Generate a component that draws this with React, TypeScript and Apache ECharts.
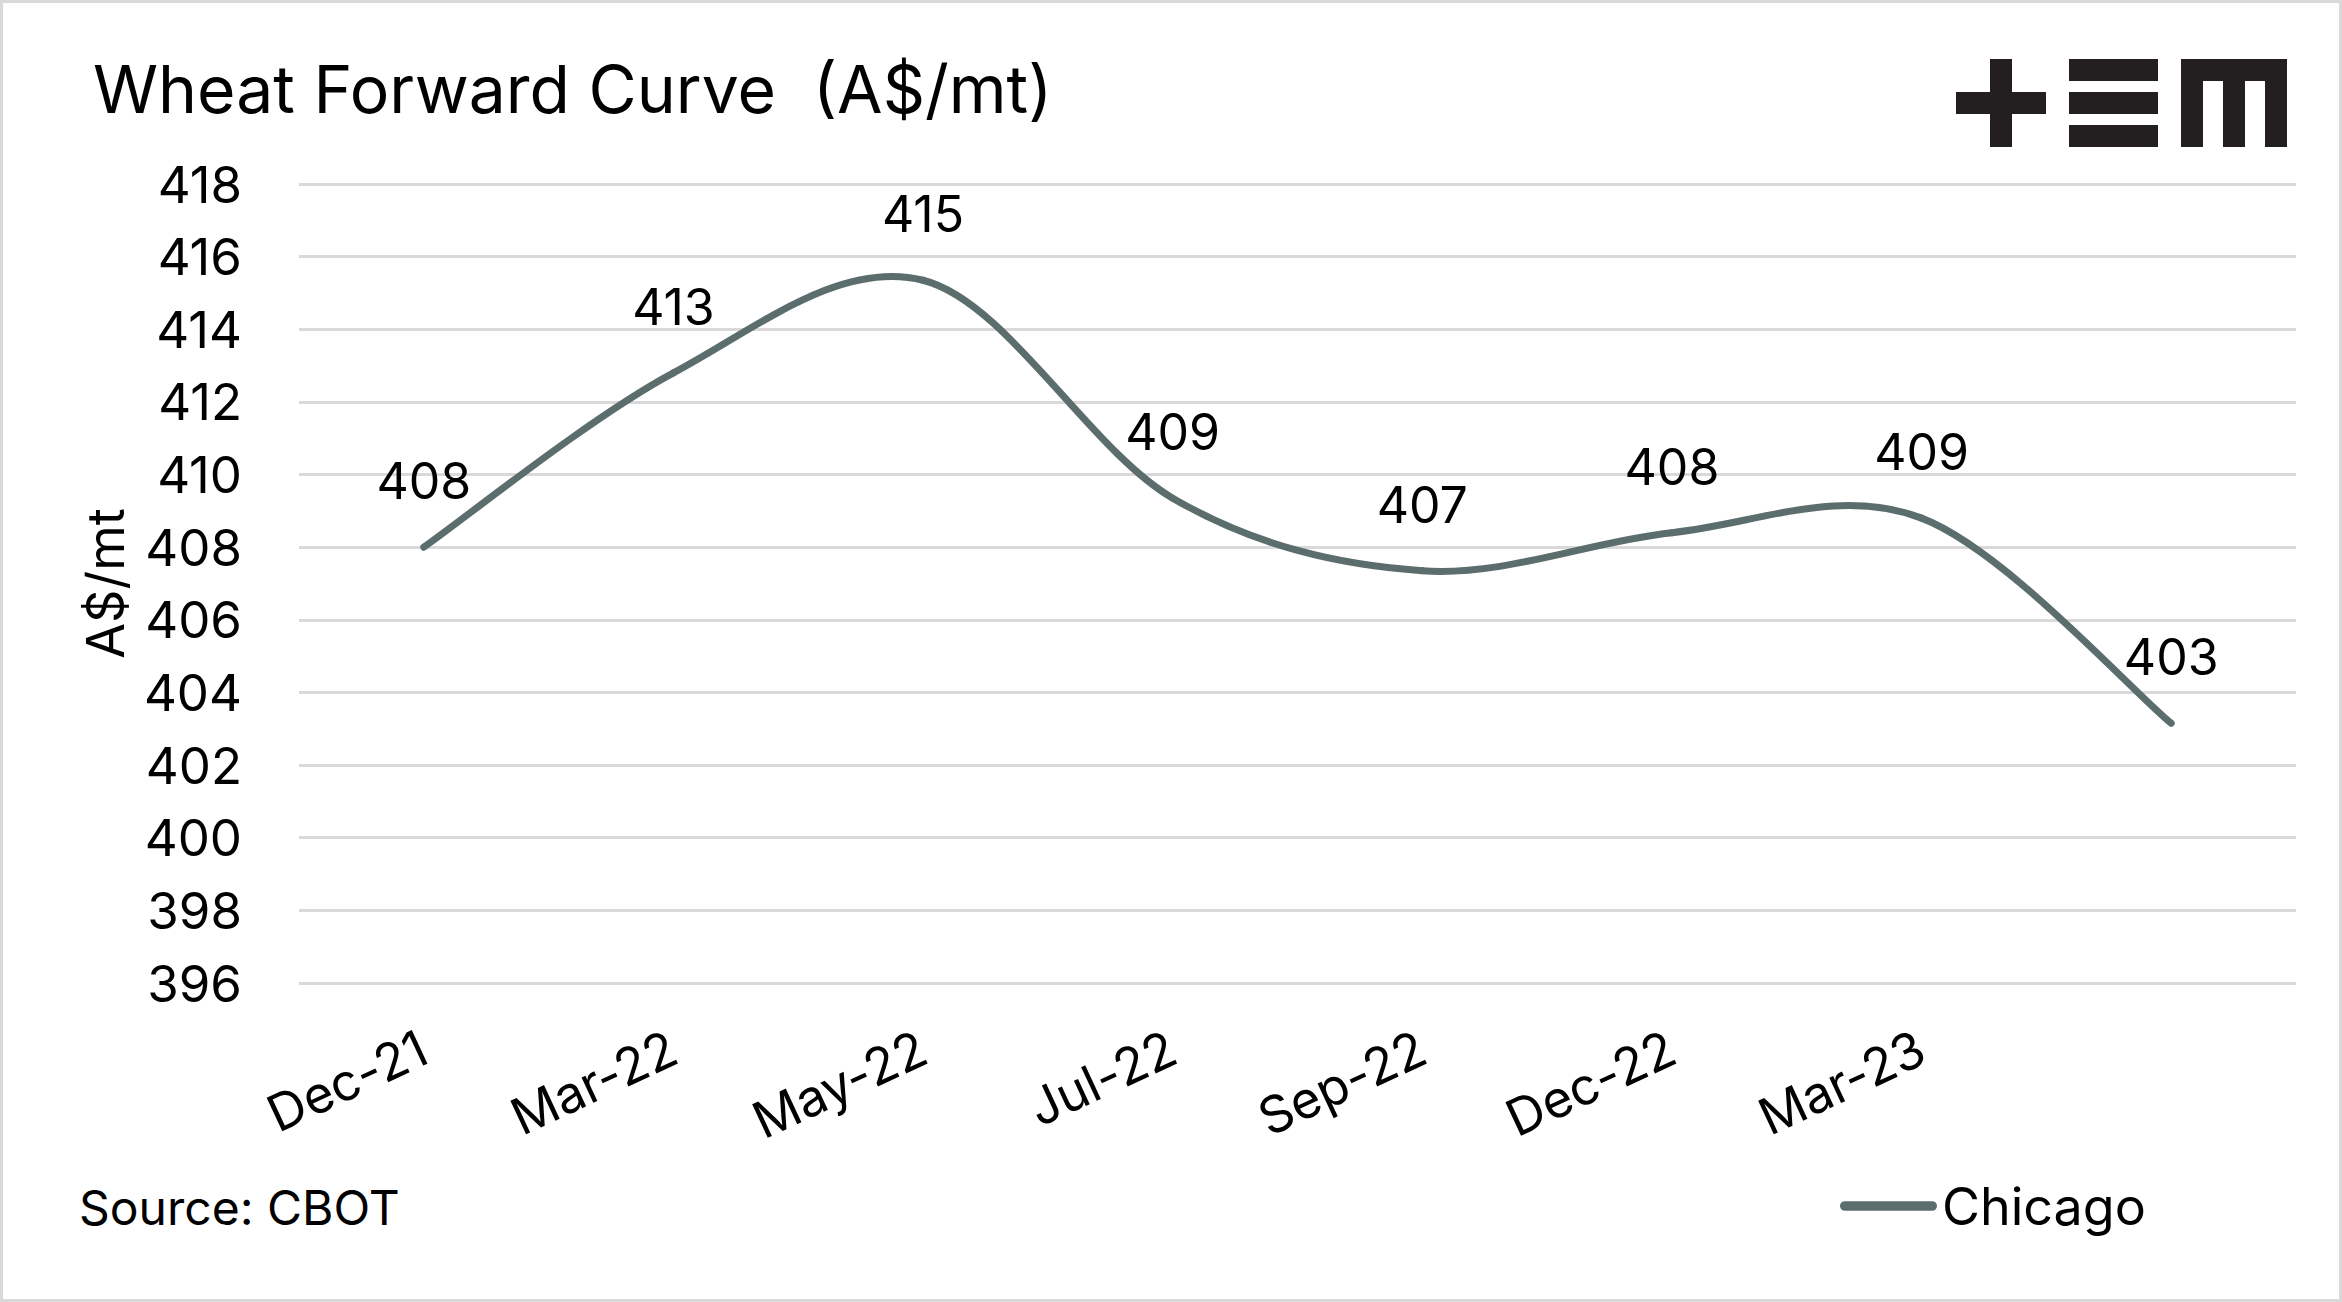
import React, { useEffect, useRef } from "react";
import * as echarts from "echarts";

const categories = ["Dec-21", "Mar-22", "May-22", "Jul-22", "Sep-22", "Dec-22", "Mar-23", ""];
const chicago = [408.0, 412.8, 415.35, 409.35, 407.35, 408.4, 408.8, 403.15];
const seriesName = "Chicago";
const yMin = 396;
const yMax = 418;
const yStep = 2;
const titleText = "Wheat Forward Curve  (A$/mt)";
const sourceText = "Source: CBOT";
const yName = "A$/mt";

const FONT = "Inter";
const LINE = "#5b6d6d";
const LOGO = "#231f20";

export default function App() {
  const ref = useRef<HTMLDivElement>(null);
  useEffect(() => {
    if (!ref.current) return;
    const chart = echarts.init(ref.current, null, { renderer: "svg" });
    const rect = (x: number, y: number, w: number, h: number) => ({
      type: "rect",
      shape: { x, y, width: w, height: h },
      style: { fill: LOGO },
      silent: true,
    });
    const renderItem = (params: any, api: any) => {
      const i = params.dataIndexInside;
      const n = params.dataInsideLength;
      const P = (k: number) => {
        const kk = Math.max(0, Math.min(n - 1, k));
        return api.coord([api.value(0, kk), api.value(1, kk)]);
      };
      const p0 = P(i - 1);
      const p1 = P(i);
      const p2 = P(i + 1);
      const p3 = P(i + 2);
      const children: any[] = [];
      if (i < n - 1) {
        const c1 = [p1[0] + (p2[0] - p0[0]) / 6, p1[1] + (p2[1] - p0[1]) / 6];
        const c2 = [p2[0] - (p3[0] - p1[0]) / 6, p2[1] - (p3[1] - p1[1]) / 6];
        children.push({
          type: "bezierCurve",
          shape: {
            x1: p1[0], y1: p1[1], x2: p2[0], y2: p2[1],
            cpx1: c1[0], cpy1: c1[1], cpx2: c2[0], cpy2: c2[1],
          },
          style: { stroke: LINE, lineWidth: 7, lineCap: "round", fill: null },
        });
      }
      children.push({
        type: "text",
        x: p1[0],
        y: p1[1] - 66,
        style: {
          text: String(Math.round(api.value(1))),
          fontSize: 50,
          fontFamily: FONT,
          fill: "#000",
          align: "center",
          verticalAlign: "middle",
        },
      });
      return { type: "group", children };
    };
    chart.setOption({
      animation: false,
      backgroundColor: "#ffffff",
      textStyle: { fontFamily: FONT },
      grid: { left: 299, right: 46, top: 184, bottom: 319, containLabel: false },
      xAxis: {
        type: "category",
        data: categories,
        boundaryGap: true,
        axisLine: { show: false },
        axisTick: { show: false },
        splitLine: { show: false },
        axisLabel: {
          interval: 0,
          rotate: 25,
          margin: 62,
          fontSize: 51,
          color: "#000",
          fontFamily: FONT,
        },
      },
      yAxis: {
        type: "value",
        min: yMin,
        max: yMax,
        interval: yStep,
        name: yName,
        nameLocation: "middle",
        nameGap: 168,
        nameTextStyle: { fontSize: 52, color: "#000", fontFamily: FONT },
        axisLine: { show: false },
        axisTick: { show: false },
        splitLine: { lineStyle: { color: "#d9d9d9", width: 3 } },
        axisLabel: { fontSize: 51, color: "#000", margin: 57, fontFamily: FONT },
      },
      legend: {
        data: [seriesName],
        left: 1835,
        top: 1175,
        itemWidth: 97,
        itemHeight: 11,
        icon: "path://M5,0 H95 A5,5 0 0 1 95,10 H5 A5,5 0 0 1 5,0 Z",
        textStyle: { fontSize: 52, color: "#000", fontFamily: FONT },
      },
      series: [
        {
          name: seriesName,
          type: "custom",
          data: chicago.map((v, i) => [i, v]),
          encode: { x: 0, y: 1 },
          itemStyle: { color: LINE },
          renderItem,
        },
      ],
      graphic: [
        {
          type: "rect",
          shape: { x: 1.5, y: 1.5, width: 2339, height: 1299 },
          style: { fill: "none", stroke: "#d9d9d9", lineWidth: 3 },
          silent: true,
        },
        {
          type: "text",
          x: 93,
          y: 89,
          style: {
            text: titleText,
            fontSize: 66,
            fontFamily: FONT,
            fill: "#000",
            textVerticalAlign: "middle",
            textAlign: "left",
          },
        },
        {
          type: "text",
          x: 79,
          y: 1207,
          style: {
            text: sourceText,
            fontSize: 48,
            fontFamily: FONT,
            fill: "#000",
            textVerticalAlign: "middle",
            textAlign: "left",
          },
        },
        rect(1956, 92, 90, 22),
        rect(1990, 59, 22, 88),
        rect(2069, 59, 89, 22),
        rect(2069, 92, 89, 22),
        rect(2069, 125, 89, 22),
        rect(2181, 59, 106, 22),
        rect(2181, 59, 22, 88),
        rect(2223, 59, 22, 88),
        rect(2265, 59, 22, 88),
      ],
    });
    return () => chart.dispose();
  }, []);
  return (
    <div
      ref={ref}
      style={{ position: "fixed", left: 0, top: 0, width: 2342, height: 1302 }}
    />
  );
}
